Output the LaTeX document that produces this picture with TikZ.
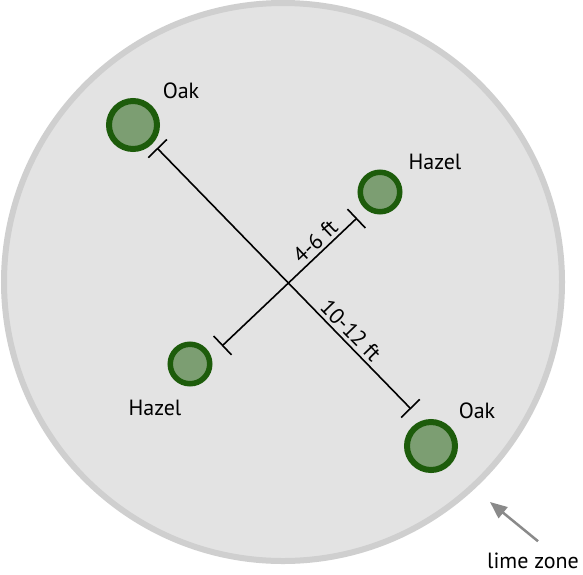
\documentclass[tikz,border=0pt]{standalone}
\usepackage{fontspec}
\setmainfont{PT Sans}
\usetikzlibrary{positioning, arrows.meta}

\definecolor{zonefill}{HTML}{E3E3E3}
\definecolor{zoneline}{HTML}{CFCFCF}
\definecolor{leafgreen}{HTML}{7C9E72}
\definecolor{barkgreen}{HTML}{1D5C0B}
\definecolor{pointergray}{HTML}{8A8A8A}

\begin{document}
\begin{tikzpicture}[
    x=1pt, y=-1pt,
    zone/.style={circle, draw=zoneline, fill=zonefill, line width=6pt, minimum size=558pt, inner sep=0pt},
    tree/.style={circle, draw=barkgreen, fill=leafgreen, inner sep=0pt},
    oak/.style={tree, line width=6pt, minimum size=48pt},
    hazel/.style={tree, line width=5.5pt, minimum size=39.5pt},
    lbl/.style={font=\fontsize{22}{24}\selectfont, inner sep=0pt},
    dim/.style={arrows={Bar[width=26pt]-Bar[width=26pt]}, line width=1.6pt},
    pointer/.style={-{Triangle[length=17pt, width=14pt]}, line width=2.5pt, draw=pointergray, fill=pointergray},
]
\path[use as bounding box, fill=white] (0,0) rectangle (583,574);
\node[zone] (zone) at (283,282) {};

% trees
\node[oak] (oakA) at (133,125) {};
\node[oak] (oakB) at (431,446) {};
\node[hazel] (hazelA) at (380,192) {};
\node[hazel] (hazelB) at (190,364) {};
\node[lbl] (oakAname) at (181,91) {Oak};
\node[lbl] (oakBname) at (477,411) {Oak};
\node[lbl] (hazelAname) at (435,162) {Hazel};
\node[lbl] (hazelBname) at (155,408) {Hazel};

% spacing
\coordinate (longA) at (157,148);
\coordinate (longB) at (411,409);
\coordinate (shortA) at (222,346);
\coordinate (shortB) at (357,218);
\draw[dim] (longA) -- (longB) node[lbl, sloped, pos=0.73, above=3pt] {10-12 ft};
\draw[dim] (shortA) -- (shortB) node[lbl, sloped, pos=0.75, above=3pt] {4-6 ft};

% lime zone
\coordinate (zoneedge) at (490,502);
\node[lbl, anchor=base] (limezone) at (533,568) {lime zone};
\draw[pointer] ([shift={(5pt,11pt)}]limezone.north) -- (zoneedge);
\end{tikzpicture}
\end{document}
